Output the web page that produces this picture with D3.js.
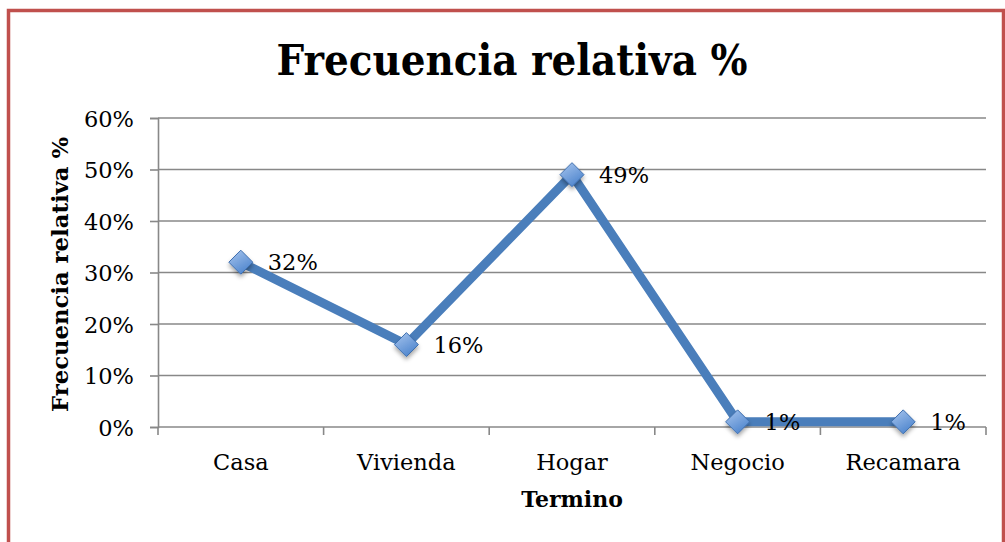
<!DOCTYPE html>
<html>
<head>
<meta charset="utf-8">
<script src="https://cdn.jsdelivr.net/npm/d3@7"></script>
<style>
  html, body { margin: 0; padding: 0; background: #fff; }
  svg { display: block; }
</style>
</head>
<body>
<svg id="chart" width="1005" height="542"></svg>
<script>
// Frecuencia relativa por término
const categories = ["Casa", "Vivienda", "Hogar", "Negocio", "Recamara"];
const values = [0.32, 0.16, 0.49, 0.01, 0.01];
const valueLabels = ["32%", "16%", "49%", "1%", "1%"];
const yTicks = [0, 0.1, 0.2, 0.3, 0.4, 0.5, 0.6];
const titleText = "Frecuencia relativa %";
const xTitle = "Termino";
const yTitle = "Frecuencia relativa %";

const svg = d3.select("#chart");
const W = 1005, H = 542;
const plot = { left: 158, right: 986, top: 118, bottom: 427 };
const serif = "'DejaVu Serif', serif";
const gridColor = "#888888";
const lineColor = "#4A7EBB";
const labelSize = 22.5;

svg.append("rect").attr("width", W).attr("height", H).attr("fill", "#fff");

// outer frame
svg.append("rect")
  .attr("x", 8.5).attr("y", 10.5)
  .attr("width", 995).attr("height", 560)
  .attr("fill", "none")
  .attr("stroke", "#C0504D")
  .attr("stroke-width", 3.5);

const defs = svg.append("defs");
const grad = defs.append("linearGradient")
  .attr("id", "markerFill").attr("x1", "0").attr("y1", "0").attr("x2", "0.6").attr("y2", "1");
grad.append("stop").attr("offset", "0%").attr("stop-color", "#A9C6EE");
grad.append("stop").attr("offset", "100%").attr("stop-color", "#4F86CE");

const shadow = defs.append("filter").attr("id", "markerShadow")
  .attr("x", "-50%").attr("y", "-50%").attr("width", "200%").attr("height", "200%");
shadow.append("feDropShadow")
  .attr("dx", 0).attr("dy", 3).attr("stdDeviation", 2)
  .attr("flood-color", "#000").attr("flood-opacity", 0.35);

const x = d3.scaleBand().domain(categories).range([plot.left, plot.right]).padding(0);
const y = d3.scaleLinear().domain([0, 0.6]).range([plot.bottom, plot.top]);
const cx = c => x(c) + x.bandwidth() / 2;

// horizontal gridlines
svg.append("g").selectAll("line")
  .data(yTicks.filter(d => d > 0))
  .join("line")
  .attr("x1", plot.left).attr("x2", plot.right)
  .attr("y1", d => y(d)).attr("y2", d => y(d))
  .attr("stroke", gridColor).attr("stroke-width", 1.6);

// y axis
const yAxis = svg.append("g")
  .attr("transform", `translate(${plot.left},0)`)
  .call(d3.axisLeft(y).tickValues(yTicks).tickFormat(d3.format(".0%")).tickSize(8).tickPadding(16));
yAxis.select(".domain").attr("stroke", gridColor).attr("stroke-width", 1.6);
yAxis.selectAll(".tick line").attr("stroke", gridColor).attr("stroke-width", 1.6);
yAxis.selectAll(".tick text")
  .attr("font-family", serif).attr("font-size", labelSize).attr("fill", "#000")
  .attr("dy", "0.36em");

// x axis baseline and category boundary ticks
svg.append("line")
  .attr("x1", plot.left).attr("x2", plot.right)
  .attr("y1", plot.bottom).attr("y2", plot.bottom)
  .attr("stroke", gridColor).attr("stroke-width", 1.6);
const bounds = categories.map(c => x(c)).concat([x(categories[categories.length - 1]) + x.bandwidth()]);
svg.append("g").selectAll("line")
  .data(bounds)
  .join("line")
  .attr("x1", d => d).attr("x2", d => d)
  .attr("y1", plot.bottom).attr("y2", plot.bottom + 8)
  .attr("stroke", gridColor).attr("stroke-width", 1.6);

svg.append("g").selectAll("text")
  .data(categories)
  .join("text")
  .attr("x", d => cx(d)).attr("y", 470)
  .attr("text-anchor", "middle")
  .attr("font-family", serif).attr("font-size", labelSize).attr("fill", "#000")
  .text(d => d);

// series line
const pts = categories.map((c, i) => ({ c, v: values[i], label: valueLabels[i] }));
svg.append("path")
  .datum(pts)
  .attr("d", d3.line().x(d => cx(d.c)).y(d => y(d.v)))
  .attr("fill", "none")
  .attr("stroke", lineColor)
  .attr("stroke-width", 9)
  .attr("stroke-linejoin", "miter");

// diamond markers
const r = 12;
svg.append("g").selectAll("path")
  .data(pts)
  .join("path")
  .attr("d", d => {
    const px = cx(d.c), py = y(d.v);
    return `M${px},${py - r}L${px + r},${py}L${px},${py + r}L${px - r},${py}Z`;
  })
  .attr("fill", "url(#markerFill)")
  .attr("stroke", "#3F6FAE")
  .attr("stroke-width", 1)
  .attr("filter", "url(#markerShadow)");

// value labels
svg.append("g").selectAll("text")
  .data(pts)
  .join("text")
  .attr("x", d => cx(d.c) + 27)
  .attr("y", d => y(d.v))
  .attr("dy", "0.36em")
  .attr("font-family", serif).attr("font-size", labelSize).attr("fill", "#000")
  .text(d => d.label);

// titles
svg.append("text")
  .attr("x", 512).attr("y", 75)
  .attr("text-anchor", "middle")
  .attr("font-family", serif).attr("font-weight", "bold").attr("font-size", 43)
  .attr("textLength", 471).attr("lengthAdjust", "spacingAndGlyphs")
  .attr("fill", "#000")
  .text(titleText);

svg.append("text")
  .attr("x", (plot.left + plot.right) / 2).attr("y", 507)
  .attr("text-anchor", "middle")
  .attr("font-family", serif).attr("font-weight", "bold").attr("font-size", 22)
  .attr("fill", "#000")
  .text(xTitle);

svg.append("text")
  .attr("transform", `translate(68,${(plot.top + plot.bottom) / 2 + 2}) rotate(-90)`)
  .attr("text-anchor", "middle")
  .attr("font-family", serif).attr("font-weight", "bold").attr("font-size", 22)
  .attr("textLength", 275).attr("lengthAdjust", "spacingAndGlyphs")
  .attr("fill", "#000")
  .text(yTitle);
</script>
</body>
</html>
